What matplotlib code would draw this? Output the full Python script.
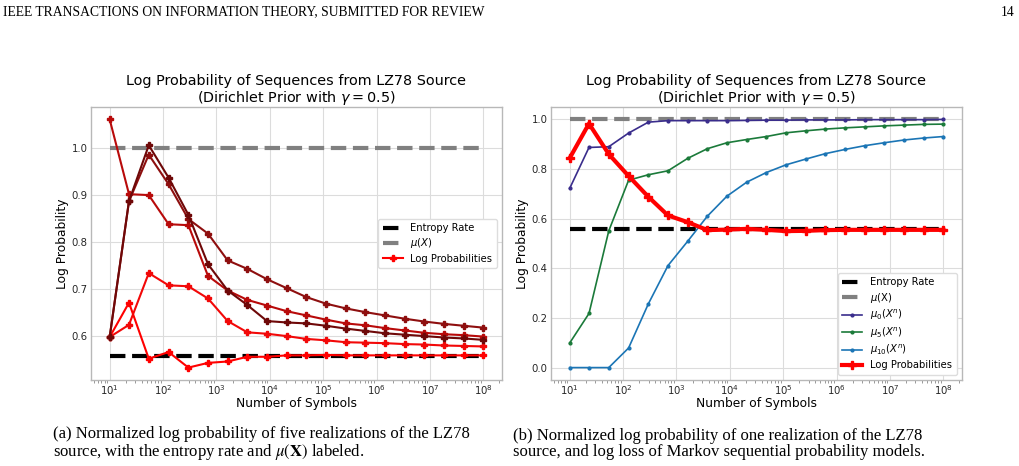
import matplotlib
matplotlib.use("Agg")
import matplotlib.pyplot as plt
from matplotlib.ticker import NullFormatter, FixedLocator, LogFormatterSciNotation
import numpy as np

# ---------------- data ----------------
n_symbols = [10, 23, 54, 127, 298, 695, 1624, 3793, 8859, 20691, 48329,
             112884, 263665, 615848, 1438450, 3359818, 7847600, 18329807,
             42813324, 100000000]
x_ticks = [1e1, 1e2, 1e3, 1e4, 1e5, 1e6, 1e7, 1e8]

entropy_rate = 0.557
mu_x = 1.0

# left panel: five realizations
real_e = [0.597, 0.670, 0.551, 0.565, 0.532, 0.542, 0.545, 0.555, 0.555, 0.558,
          0.558, 0.559, 0.558, 0.558, 0.558, 0.558, 0.558, 0.558, 0.558, 0.558]
real_d = [0.597, 0.623, 0.733, 0.707, 0.705, 0.679, 0.631, 0.607, 0.604, 0.599,
          0.593, 0.590, 0.586, 0.585, 0.584, 0.582, 0.581, 0.579, 0.578, 0.577]
real_a = [1.060, 0.901, 0.899, 0.837, 0.835, 0.727, 0.696, 0.676, 0.664, 0.652,
          0.643, 0.634, 0.626, 0.622, 0.616, 0.611, 0.606, 0.603, 0.601, 0.598]
real_b = [0.597, 0.886, 0.985, 0.922, 0.848, 0.817, 0.760, 0.742, 0.720, 0.701,
          0.682, 0.668, 0.658, 0.650, 0.643, 0.636, 0.630, 0.625, 0.621, 0.617]
real_c = [0.597, 0.886, 1.005, 0.936, 0.857, 0.752, 0.696, 0.665, 0.631, 0.628,
          0.626, 0.621, 0.615, 0.610, 0.605, 0.602, 0.599, 0.596, 0.594, 0.591]
realizations = [real_e, real_d, real_a, real_b, real_c]
real_colors = ["#ff0000", "#f20808", "#b80a0a", "#8e0f0f", "#6e0808"]

# right panel
log_prob = [0.844, 0.983, 0.860, 0.772, 0.688, 0.613, 0.586, 0.554, 0.556, 0.559,
            0.555, 0.550, 0.551, 0.554, 0.555, 0.555, 0.555, 0.555, 0.555, 0.555]
mu0 = [0.722, 0.887, 0.890, 0.945, 0.989, 0.995, 0.995, 0.995, 0.995, 0.996,
       0.997, 0.997, 0.998, 0.998, 0.998, 0.999, 0.999, 0.999, 0.999, 1.000]
mu5 = [0.099, 0.218, 0.551, 0.755, 0.777, 0.793, 0.843, 0.882, 0.906, 0.919,
       0.931, 0.946, 0.954, 0.961, 0.966, 0.970, 0.974, 0.977, 0.980, 0.981]
mu10 = [0.000, 0.000, 0.000, 0.079, 0.257, 0.411, 0.509, 0.610, 0.691, 0.747,
        0.786, 0.817, 0.840, 0.862, 0.879, 0.894, 0.906, 0.917, 0.925, 0.931]

title = "Log Probability of Sequences from LZ78 Source\n(Dirichlet Prior with $\\gamma = 0.5$)"
xlabel = "Number of Symbols"
ylabel = "Log Probability"

header_left = "IEEE TRANSACTIONS ON INFORMATION THEORY, SUBMITTED FOR REVIEW"
header_right = "14"
cap_a = ("(a) Normalized log probability of five realizations of the LZ78\n"
         "source, with the entropy rate and $\\mu(\\mathbf{X})$ labeled.")
cap_b = ("(b) Normalized log probability of one realization of the LZ78\n"
         "source, and log loss of Markov sequential probability models.")

# ---------------- style ----------------
plt.rcParams["font.family"] = ["DejaVu Sans"]
TXT = "#262626"
SPINE = "#b8b8b8"
GRID = "#dcdcdc"

fig = plt.figure(figsize=(10.2, 4.66), dpi=100)
W, H = 1020, 466


def make_axes(x0, x1, y0, y1):
    ax = fig.add_axes([x0 / W, 1 - y1 / H, (x1 - x0) / W, (y1 - y0) / H])
    ax.set_xscale("log")
    ax.xaxis.set_major_locator(FixedLocator(x_ticks))
    ax.xaxis.set_major_formatter(LogFormatterSciNotation())
    ax.xaxis.set_minor_formatter(NullFormatter())
    ax.grid(True, which="major", color=GRID, linewidth=0.8)
    ax.set_axisbelow(True)
    for s in ax.spines.values():
        s.set_color(SPINE)
        s.set_linewidth(1.0)
    ax.tick_params(which="major", length=0, labelsize=7.3, colors=TXT, pad=2.5)
    ax.tick_params(axis="x", which="major", pad=2)
    ax.tick_params(axis="x", which="minor", length=2, color="#888888", width=0.6)
    ax.tick_params(axis="y", which="minor", length=0)
    ax.set_title(title, fontsize=10.4, color="black", pad=3, linespacing=1.05)
    ax.set_xlabel(xlabel, fontsize=8.8, color="black", labelpad=0)
    ax.set_ylabel(ylabel, fontsize=8.8, color="black", labelpad=2)
    return ax


leg_kw = dict(fontsize=7.2, framealpha=1.0, edgecolor="#dddddd",
              handlelength=2.0, borderpad=0.45, labelspacing=0.32,
              handletextpad=0.8, fancybox=True)

# left panel
ax1 = make_axes(91, 502, 107, 380)
ax1.plot([n_symbols[0], n_symbols[-1]], [entropy_rate, entropy_rate],
         linestyle="--", color="black", linewidth=3, label="Entropy Rate")
ax1.plot([n_symbols[0], n_symbols[-1]], [mu_x, mu_x],
         linestyle="--", color="gray", linewidth=3, label="$\\mu(X)$")
for i, (vals, c) in enumerate(zip(realizations, real_colors)):
    ax1.plot(n_symbols, vals, color=c, linewidth=1.5, marker="P",
             markersize=4, label="Log Probabilities" if i == 0 else None)
ax1.legend(loc="center right", **leg_kw)

# right panel
ax2 = make_axes(551, 962, 107, 380)
ax2.plot([n_symbols[0], n_symbols[-1]], [entropy_rate, entropy_rate],
         linestyle="--", color="black", linewidth=3, label="Entropy Rate")
ax2.plot([n_symbols[0], n_symbols[-1]], [mu_x, mu_x],
         linestyle="--", color="gray", linewidth=3, label="$\\mu$(X)")
ax2.plot(n_symbols, mu0, color="#3a2d8c", linewidth=1.2, marker=".",
         markersize=4, label="$\\mu_0(X^n)$")
ax2.plot(n_symbols, mu5, color="#1b7a3a", linewidth=1.2, marker=".",
         markersize=4, label="$\\mu_5(X^n)$")
ax2.plot(n_symbols, mu10, color="#1b75b5", linewidth=1.2, marker=".",
         markersize=4, label="$\\mu_{10}(X^n)$")
ax2.plot(n_symbols, log_prob, color="#ff0000", linewidth=3, marker="P",
         markersize=6, label="Log Probabilities")
ax2.legend(loc="lower right", **leg_kw)

# page text
serif = "Liberation Serif"
fig.text(3 / W, 1 - 12 / H, header_left, fontsize=9.8, family=serif,
         va="center", ha="left")
fig.text(1015 / W, 1 - 12 / H, header_right, fontsize=9.8, family=serif,
         va="center", ha="right")
cap_fs = 12
fig.text(53 / W, 1 - 444 / H, cap_a, fontsize=cap_fs, family=serif,
         va="center", ha="left", linespacing=0.95, math_fontfamily="stix")
fig.text(513 / W, 1 - 444 / H, cap_b, fontsize=cap_fs, family=serif,
         va="center", ha="left", linespacing=0.95)

fig.savefig("out.png", dpi=100, facecolor="white")
